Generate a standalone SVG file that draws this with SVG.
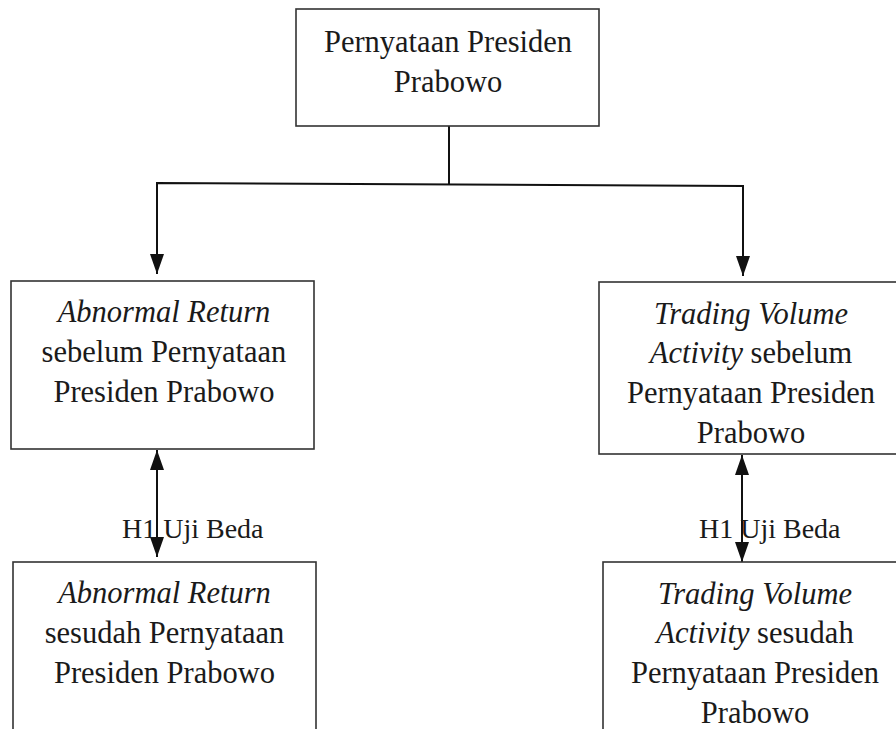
<svg xmlns="http://www.w3.org/2000/svg" width="896" height="729" viewBox="0 0 896 729">
<style>
.box{fill:#ffffff;stroke:#333333;stroke-width:1.6}
.t{font-family:"Liberation Serif","Times New Roman",serif;font-size:30.5px;fill:#1a1a1a;text-anchor:middle}
.lbl{font-family:"Liberation Serif","Times New Roman",serif;font-size:28px;fill:#1a1a1a}
.i{font-style:italic}
.c{fill:none;stroke:#111111;stroke-width:2}
</style>
<defs>
<marker id="ah" viewBox="0 0 20 14" markerWidth="20" markerHeight="14" refX="20" refY="7" markerUnits="userSpaceOnUse" orient="auto-start-reverse">
<path d="M0,0 L20,7 L0,14 z" fill="#111111"/>
</marker>
</defs>
<rect width="896" height="729" fill="#ffffff"/>
<g id="connectors">
<line class="c" x1="449" y1="126" x2="449" y2="184"/>
<polyline class="c" points="157,274 157,183 743,186 743,276" marker-start="url(#ah)" marker-end="url(#ah)"/>
<line class="c" x1="157" y1="450" x2="157" y2="557" marker-start="url(#ah)" marker-end="url(#ah)"/>
<line class="c" x1="742" y1="455" x2="742" y2="562" marker-start="url(#ah)" marker-end="url(#ah)"/>
<text class="lbl" x="122" y="538">H1 Uji Beda</text>
<text class="lbl" x="699" y="538">H1 Uji Beda</text>
</g>
<g id="node-top">
<rect class="box" x="296" y="9" width="303" height="117"/>
<text class="t" x="448" y="52">Pernyataan Presiden</text>
<text class="t" x="448" y="92">Prabowo</text>
</g>
<g id="node-ar-before">
<rect class="box" x="11" y="281" width="303" height="168"/>
<text class="t" x="164" y="322"><tspan class="i">Abnormal Return</tspan></text>
<text class="t" x="164" y="362">sebelum Pernyataan</text>
<text class="t" x="164" y="402">Presiden Prabowo</text>
</g>
<g id="node-tva-before">
<rect class="box" x="599" y="282" width="310" height="172"/>
<text class="t" x="751" y="324"><tspan class="i">Trading Volume</tspan></text>
<text class="t" x="751" y="363"><tspan class="i">Activity</tspan> sebelum</text>
<text class="t" x="751" y="403">Pernyataan Presiden</text>
<text class="t" x="751" y="443">Prabowo</text>
</g>
<g id="node-ar-after">
<rect class="box" x="13" y="562" width="303" height="200"/>
<text class="t" x="164.5" y="603"><tspan class="i">Abnormal Return</tspan></text>
<text class="t" x="164.5" y="643">sesudah Pernyataan</text>
<text class="t" x="164.5" y="683">Presiden Prabowo</text>
</g>
<g id="node-tva-after">
<rect class="box" x="603" y="562" width="310" height="200"/>
<text class="t" x="755" y="604"><tspan class="i">Trading Volume</tspan></text>
<text class="t" x="755" y="643"><tspan class="i">Activity</tspan> sesudah</text>
<text class="t" x="755" y="683">Pernyataan Presiden</text>
<text class="t" x="755" y="723">Prabowo</text>
</g>
</svg>
